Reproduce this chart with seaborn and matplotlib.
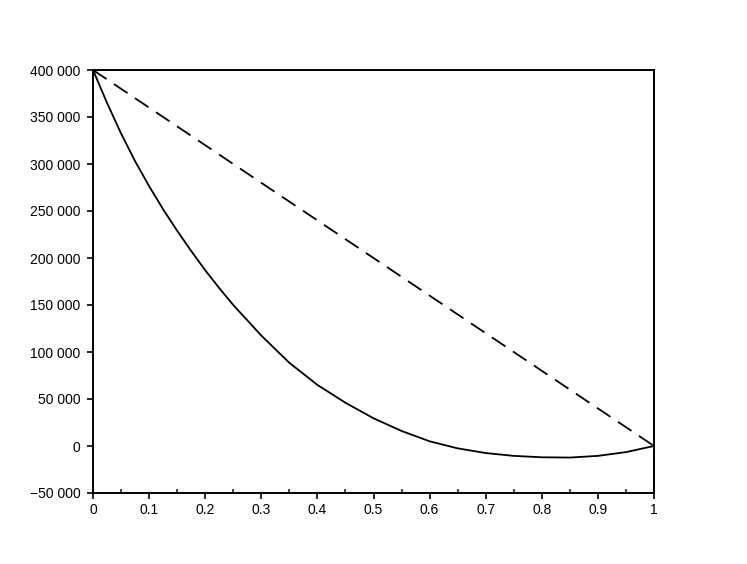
import numpy as np
import pandas as pd
import seaborn as sns
import matplotlib
matplotlib.use('Agg')
import matplotlib.pyplot as plt
from matplotlib.ticker import FuncFormatter, MultipleLocator

# valores
x_curva = [0, 0.025, 0.05, 0.075, 0.1, 0.125, 0.15, 0.175, 0.2, 0.225, 0.25,
           0.3, 0.35, 0.4, 0.45, 0.5, 0.55, 0.6, 0.65, 0.7, 0.75, 0.8, 0.85,
           0.9, 0.95, 1.0]
y_curva = [400000, 365000, 332500, 303000, 276500, 251800, 229000, 207500,
           187000, 168000, 150000, 117500, 88500, 65000, 46000, 29500, 16000,
           5000, -2500, -7500, -10500, -12000, -12300, -10500, -6500, 0]

x_reta = [0, 1]
y_reta = [400000, 0]

df_curva = pd.DataFrame({'x': x_curva, 'y': y_curva})
df_reta = pd.DataFrame({'x': x_reta, 'y': y_reta})

sns.set_style('ticks')
plt.rcParams['font.family'] = ['Liberation Sans', 'DejaVu Sans']

fig = plt.figure(figsize=(7.47, 5.64), dpi=100)
ax = fig.add_axes([93/747, 1 - 493/564, (654 - 93)/747, (493 - 70)/564])

sns.lineplot(data=df_curva, x='x', y='y', color='black', linewidth=1.3, ax=ax)
sns.lineplot(data=df_reta, x='x', y='y', color='black', linewidth=1.3,
             linestyle=(0, (9, 5)), ax=ax)

ax.set_xlim(0, 1)
ax.set_ylim(-50000, 400000)
ax.set_xlabel('')
ax.set_ylabel('')

ax.xaxis.set_major_locator(MultipleLocator(0.1))
ax.xaxis.set_minor_locator(MultipleLocator(0.05))
ax.yaxis.set_major_locator(MultipleLocator(50000))

ax.xaxis.set_major_formatter(FuncFormatter(lambda v, p: f'{v:g}'))
ax.yaxis.set_major_formatter(
    FuncFormatter(lambda v, p: f'{v:,.0f}'.replace(',', ' ').replace('-', '\u2212')))

ax.tick_params(axis='both', which='major', direction='out', length=4, width=1.2,
               labelsize=10, colors='black', pad=5)
ax.tick_params(axis='x', which='major', pad=3)
ax.tick_params(axis='x', which='minor', direction='in', length=3, width=1.2)

for s in ax.spines.values():
    s.set_visible(True)
    s.set_color('black')
    s.set_linewidth(1.4)

fig.savefig('out.png', dpi=100, facecolor='white')
